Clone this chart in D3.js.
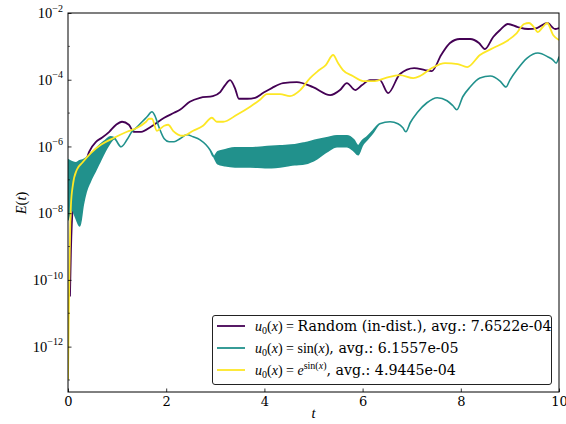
<!DOCTYPE html>
<html>
<head>
<meta charset="utf-8">
<script src="https://cdn.jsdelivr.net/npm/d3@7"></script>
<style>
  html, body { margin: 0; padding: 0; background: #fff; }
  svg { display: block; }
</style>
</head>
<body>
<svg id="chart" width="566" height="424"></svg>
<script>
// Energy error E(t) over time for three initial conditions (log scale).

// Random (in-distribution) initial condition
const tRandom = [0.04,0.06,0.10,0.18,0.33,0.43,0.57,0.69,0.84,0.98,1.10,1.24,1.34,1.49,1.69,1.96,2.16,2.28,2.48,2.69,2.95,3.10,3.20,3.30,3.40,3.48,3.65,3.81,3.97,4.15,4.38,4.66,4.99,5.34,5.54,5.68,5.85,5.99,6.15,6.35,6.52,6.76,7.05,7.27,7.41,7.60,7.78,7.98,8.19,8.37,8.49,8.66,8.80,8.96,9.16,9.37,9.55,9.76,9.92,10.0];
const eRandom = [3.16e-11,7.94e-10,1.78e-8,1.0e-7,2.45e-7,6.92e-7,1.38e-6,1.82e-6,2.75e-6,4.47e-6,5.50e-6,4.47e-6,2.75e-6,2.75e-6,3.89e-6,7.24e-6,1.02e-5,1.26e-5,2.19e-5,2.88e-5,3.24e-5,4.27e-5,6.92e-5,9.77e-5,5.62e-5,2.69e-5,2.69e-5,2.88e-5,3.98e-5,5.62e-5,7.94e-5,8.51e-5,6.03e-5,3.47e-5,4.90e-5,7.94e-5,4.90e-5,6.92e-5,9.77e-5,9.77e-5,3.98e-5,1.48e-4,2.24e-4,1.95e-4,1.82e-4,5.50e-4,1.26e-3,1.66e-3,1.66e-3,1.26e-3,8.32e-4,1.91e-3,3.09e-3,4.68e-3,3.80e-3,3.31e-3,3.55e-3,5.01e-3,3.31e-3,3.55e-3];

// sin(x) initial condition: fast oscillation shown as an upper / lower envelope
const tSin = [0.00,0.08,0.16,0.24,0.31,0.37,0.45,0.55,0.65,0.75,0.86,0.94,1.08,1.20,1.30,1.41,1.51,1.61,1.71,1.77,1.85,1.96,2.06,2.16,2.28,2.42,2.55,2.69,2.81,2.89,2.97,3.05,3.20,3.40,3.71,4.01,4.32,4.62,4.83,5.07,5.27,5.48,5.68,5.82,5.91,5.99,6.09,6.21,6.35,6.56,6.72,6.82,6.88,6.97,7.11,7.31,7.52,7.72,7.84,7.92,8.04,8.19,8.39,8.60,8.80,8.92,9.00,9.14,9.35,9.57,9.78,9.88,9.94,10.00];
const eSinHigh = [3.98e-7,3.47e-7,3.24e-7,3.72e-7,3.98e-7,4.57e-7,5.62e-7,7.94e-7,1.12e-6,1.48e-6,1.95e-6,1.82e-6,9.77e-7,1.58e-6,2.75e-6,3.89e-6,5.50e-6,7.76e-6,1.10e-5,8.32e-6,3.89e-6,1.70e-6,1.38e-6,1.38e-6,1.70e-6,2.24e-6,1.95e-6,1.58e-6,1.12e-6,7.94e-7,4.90e-7,6.92e-7,7.94e-7,9.12e-7,9.12e-7,9.77e-7,1.05e-6,1.12e-6,1.29e-6,1.58e-6,1.82e-6,2.09e-6,2.09e-6,1.58e-6,1.05e-6,1.48e-6,1.95e-6,2.95e-6,4.79e-6,5.50e-6,4.79e-6,3.63e-6,2.75e-6,5.13e-6,1.02e-5,2.04e-5,2.88e-5,2.34e-5,1.66e-5,1.26e-5,3.09e-5,6.03e-5,1.12e-4,1.29e-4,9.12e-5,6.03e-5,9.77e-5,1.95e-4,4.47e-4,6.31e-4,4.79e-4,3.89e-4,3.16e-4,4.79e-4];
const eSinLow = [6.31e-9,1.26e-8,7.24e-9,4.17e-9,1.78e-8,4.37e-8,8.71e-8,1.74e-7,3.47e-7,6.92e-7,1.29e-6,1.70e-6,9.77e-7,1.58e-6,2.75e-6,3.89e-6,5.50e-6,7.76e-6,1.10e-5,8.32e-6,3.89e-6,1.70e-6,1.38e-6,1.38e-6,1.70e-6,2.24e-6,1.95e-6,1.58e-6,1.12e-6,7.94e-7,4.90e-7,3.02e-7,2.63e-7,2.45e-7,2.45e-7,2.29e-7,2.45e-7,2.82e-7,3.02e-7,4.27e-7,6.92e-7,9.77e-7,9.77e-7,7.41e-7,5.62e-7,1.05e-6,1.58e-6,2.57e-6,4.79e-6,5.50e-6,4.79e-6,3.63e-6,2.75e-6,5.13e-6,1.02e-5,2.04e-5,2.88e-5,2.34e-5,1.66e-5,1.26e-5,3.09e-5,6.03e-5,1.12e-4,1.29e-4,9.12e-5,6.03e-5,9.77e-5,1.95e-4,4.47e-4,6.31e-4,4.79e-4,3.89e-4,3.16e-4,4.79e-4];

// exp(sin(x)) initial condition
const tExp = [0,0.02,0.04,0.06,0.10,0.18,0.29,0.47,0.67,0.94,1.20,1.41,1.59,1.65,1.71,1.81,1.96,2.04,2.14,2.34,2.55,2.75,2.93,3.03,3.16,3.44,3.71,3.91,4.05,4.32,4.52,4.73,4.93,5.09,5.25,5.40,5.50,5.60,5.80,6.01,6.25,6.46,6.76,7.03,7.17,7.41,7.68,7.94,8.13,8.39,8.66,8.94,9.14,9.29,9.39,9.47,9.57,9.67,9.76,9.88,10.0];
const eExp = [1.02e-13,2.57e-11,1.58e-9,1.78e-8,7.08e-8,2.00e-7,3.24e-7,6.46e-7,1.12e-6,1.82e-6,2.75e-6,3.63e-6,5.50e-6,6.76e-6,6.76e-6,2.95e-6,4.17e-6,4.47e-6,2.95e-6,2.09e-6,2.95e-6,4.17e-6,7.24e-6,5.50e-6,5.50e-6,8.91e-6,1.55e-5,2.51e-5,3.72e-5,3.72e-5,3.24e-5,4.90e-5,1.12e-4,1.82e-4,2.75e-4,5.50e-4,3.16e-4,1.95e-4,1.29e-4,9.12e-5,9.12e-5,1.12e-4,1.38e-4,1.12e-4,1.29e-4,2.24e-4,3.16e-4,2.95e-4,2.40e-4,5.50e-4,8.91e-4,1.45e-3,2.51e-3,4.68e-3,5.01e-3,4.07e-3,2.69e-3,3.80e-3,5.01e-3,2.19e-3,1.55e-3];

// Axis ticks and legend
const xTicks = [0, 2, 4, 6, 8, 10];
const yMajorTicks = [1e-12, 1e-10, 1e-8, 1e-6, 1e-4, 1e-2];
const yMinorTicks = [1e-13, 1e-11, 1e-9, 1e-7, 1e-5, 1e-3];
const seriesColors = ["#440154", "#21918c", "#fde725"];
const legendAverages = ["7.6522e-04", "6.1557e-05", "4.9445e-04"];

const svg = d3.select("#chart");
const plotL = 68, plotR = 559, plotT = 13, plotB = 392;

const x = d3.scaleLinear().domain([0, 10]).range([plotL, plotR]);
const y = d3.scaleLog().domain([Math.pow(10, -13.36), 1e-2]).range([plotB, plotT]);

svg.append("defs").append("clipPath").attr("id", "plotClip")
  .append("rect").attr("x", plotL).attr("y", plotT)
  .attr("width", plotR - plotL).attr("height", plotB - plotT);

const plot = svg.append("g").attr("clip-path", "url(#plotClip)");

const line = d3.line().curve(d3.curveMonotoneX);
const toPts = (ts, es) => ts.map((t, i) => [x(t), y(es[i])]);

// Random series
plot.append("path")
  .attr("d", line(toPts(tRandom, eRandom)))
  .attr("fill", "none").attr("stroke", seriesColors[0])
  .attr("stroke-width", 1.8).attr("stroke-linejoin", "round");

// sin(x) series as a filled band between envelopes
const band = d3.area()
  .x((d, i) => x(tSin[i]))
  .y0((d, i) => y(eSinLow[i]))
  .y1((d, i) => y(eSinHigh[i]))
  .curve(d3.curveMonotoneX);
plot.append("path")
  .attr("d", band(tSin))
  .attr("fill", seriesColors[1]).attr("stroke", seriesColors[1])
  .attr("stroke-width", 1.6).attr("stroke-linejoin", "round");

// exp(sin(x)) series
plot.append("path")
  .attr("d", line(toPts(tExp, eExp)))
  .attr("fill", "none").attr("stroke", seriesColors[2])
  .attr("stroke-width", 1.8).attr("stroke-linejoin", "round");

// Axes
const mathFont = "'Liberation Serif', 'DejaVu Serif', serif";
const textFont = "'DejaVu Serif', serif";

const xAxis = svg.append("g").attr("transform", `translate(0,${plotB})`)
  .call(d3.axisBottom(x).tickValues(xTicks).tickSizeInner(-3.5).tickSizeOuter(0).tickPadding(5)
    .tickFormat(d3.format("d")));
xAxis.select(".domain").remove();
xAxis.selectAll("line").attr("stroke", "#000").attr("stroke-width", 0.8);
xAxis.selectAll("text").attr("font-family", textFont).attr("font-size", 13).attr("fill", "#000");

const yAxis = svg.append("g").attr("transform", `translate(${plotL},0)`)
  .call(d3.axisLeft(y).tickValues(yMajorTicks).tickSizeInner(-3.5).tickSizeOuter(0).tickPadding(5)
    .tickFormat(() => ""));
yAxis.select(".domain").remove();
yAxis.selectAll("line").attr("stroke", "#000").attr("stroke-width", 0.8);
yAxis.selectAll(".tick text").each(function(d) {
  const t = d3.select(this).attr("font-family", mathFont).attr("fill", "#000").attr("text-anchor", "end");
  const exp = Math.round(Math.log10(d));
  t.append("tspan").attr("font-size", 14.5).attr("dy", "0.32em").text("10");
  t.append("tspan").attr("font-size", 10).attr("dy", -6.5).text("\u2212" + Math.abs(exp));
});
svg.append("g").selectAll("line").data(yMinorTicks).join("line")
  .attr("x1", plotL).attr("x2", plotL + 2)
  .attr("y1", d => y(d)).attr("y2", d => y(d))
  .attr("stroke", "#000").attr("stroke-width", 0.6);

// Frame
svg.append("rect").attr("x", plotL).attr("y", plotT)
  .attr("width", plotR - plotL).attr("height", plotB - plotT)
  .attr("fill", "none").attr("stroke", "#000").attr("stroke-width", 1);

// Axis labels
const yLab = svg.append("text")
  .attr("transform", "translate(26,203) rotate(-90)")
  .attr("text-anchor", "middle").attr("font-family", mathFont).attr("font-size", 14.5);
yLab.append("tspan").attr("font-style", "italic").text("E");
yLab.append("tspan").text("(");
yLab.append("tspan").attr("font-style", "italic").text("t");
yLab.append("tspan").text(")");

svg.append("text").attr("x", (plotL + plotR) / 2).attr("y", 418)
  .attr("text-anchor", "middle").attr("font-family", mathFont)
  .attr("font-style", "italic").attr("font-size", 14.5).text("t");

// Legend
const lg = svg.append("g");
lg.append("rect").attr("x", 212.5).attr("y", 315.5).attr("width", 339).attr("height", 69)
  .attr("rx", 2.5).attr("fill", "#fff").attr("stroke", "#222").attr("stroke-width", 1);

const rowsY = [326, 348, 370];
rowsY.forEach((ry, i) => {
  lg.append("line").attr("x1", 217).attr("x2", 245).attr("y1", ry).attr("y2", ry)
    .attr("stroke", seriesColors[i]).attr("stroke-width", 1.8);
  const txt = lg.append("text").attr("x", 255).attr("y", ry + 4.5).attr("fill", "#000");
  const m = (s, italic) => txt.append("tspan").attr("font-family", mathFont).attr("font-size", 14)
    .attr("font-style", italic ? "italic" : "normal").text(s);
  m("u", true);
  txt.append("tspan").attr("font-family", mathFont).attr("font-size", 10).attr("dy", 3).text("0");
  m("(", false).attr("dy", -3);
  m("x", true);
  m(")", false);
  m(" = ", false);
  if (i === 0) {
    txt.append("tspan").attr("font-family", textFont).attr("font-size", 14.2)
      .text("Random (in-dist.), avg.: " + legendAverages[0]);
  } else if (i === 1) {
    m("sin(", false); m("x", true); m(")", false);
    txt.append("tspan").attr("font-family", textFont).attr("font-size", 14.2)
      .text(", avg.: " + legendAverages[1]);
  } else {
    m("e", true);
    const s = (str, it) => txt.append("tspan").attr("font-family", mathFont).attr("font-size", 10)
      .attr("font-style", it ? "italic" : "normal").text(str);
    s("sin(", false).attr("dy", -6); s("x", true); s(")", false);
    txt.append("tspan").attr("font-family", textFont).attr("font-size", 14.2).attr("dy", 6)
      .text(", avg.: " + legendAverages[2]);
  }
});
</script>
</body>
</html>
